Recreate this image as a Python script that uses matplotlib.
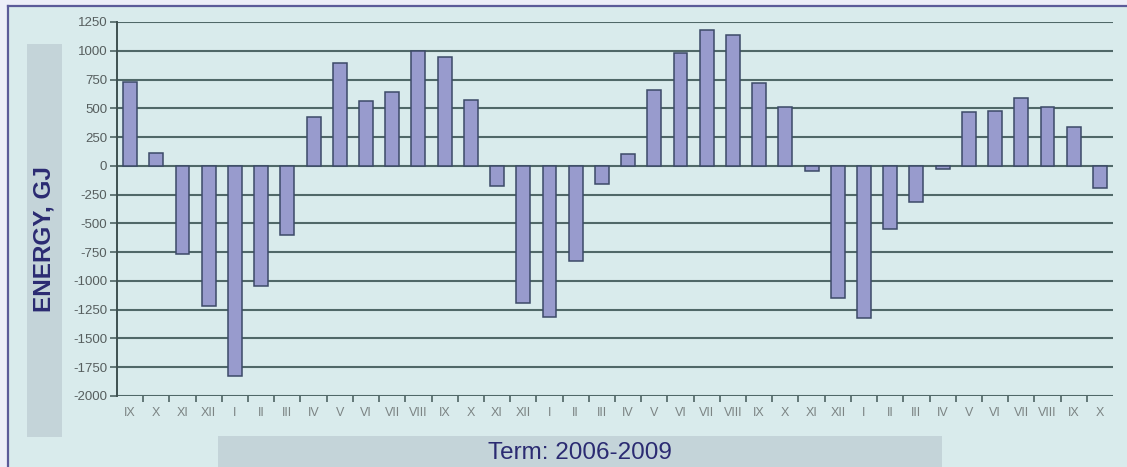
import matplotlib.pyplot as plt
import matplotlib.patches as mpatches
import numpy as np

months = ["IX", "X", "XI", "XII",
          "I", "II", "III", "IV", "V", "VI", "VII", "VIII", "IX", "X", "XI", "XII",
          "I", "II", "III", "IV", "V", "VI", "VII", "VIII", "IX", "X", "XI", "XII",
          "I", "II", "III", "IV", "V", "VI", "VII", "VIII", "IX", "X"]
energy = [730, 110, -770, -1220,
          -1830, -1045, -605, 425, 890, 560, 643, 995, 945, 570, -178, -1190,
          -1310, -830, -157, 102, 663, 983, 1177, 1134, 721, 515, -48, -1150,
          -1318, -550, -316, -28, 465, 477, 587, 513, 337, -189]
yticks = [1250, 1000, 750, 500, 250, 0, -250, -500, -750, -1000, -1250, -1500, -1750, -2000]

W, H = 1127, 467
bg = "#d9ebec"
navy = "#2b2b72"

fig = plt.figure(figsize=(W / 100, H / 100), dpi=100)
fig.patch.set_facecolor("#eceef8")

# background panel + border (top and left only)
fig.add_artist(mpatches.Rectangle((8 / W, 0), 1, 1 - 6 / H, transform=fig.transFigure,
                                  facecolor=bg, edgecolor="none", zorder=0))
fig.add_artist(plt.Line2D([8 / W, 1], [1 - 6 / H, 1 - 6 / H], transform=fig.transFigure,
                          color="#5b5b99", lw=1.6))
fig.add_artist(plt.Line2D([8 / W, 8 / W], [0, 1 - 6 / H], transform=fig.transFigure,
                          color="#5b5b99", lw=1.6))

# label boxes
fig.add_artist(mpatches.Rectangle((27 / W, 1 - 437 / H), 35 / W, 393 / H, transform=fig.transFigure,
                                  facecolor="#c4d4d9", edgecolor="none"))
fig.add_artist(mpatches.Rectangle((218 / W, 0), 724 / W, 31 / H, transform=fig.transFigure,
                                  facecolor="#c4d4d9", edgecolor="none"))
fig.text(44 / W, 1 - 239 / H, "ENERGY, GJ", rotation=90, ha="center", va="center",
         fontsize=17.5, fontweight="bold", color=navy, family="Liberation Sans")
fig.text(580 / W, 1 - 453 / H, "Term: 2006-2009", ha="center", va="center",
         fontsize=17.5, color=navy, family="Liberation Sans")

ax = fig.add_axes([117 / W, 1 - 396 / H, 996 / W, 374 / H])
ax.set_facecolor("none")
x = np.arange(len(energy))
ax.bar(x, energy, width=0.53, color="#989bcd", edgecolor="#3c4a68", linewidth=1.1, zorder=3)

ax.set_xlim(-0.5, len(energy) - 0.5)
ax.set_ylim(-2000, 1250)
ax.set_yticks(yticks)
ax.set_yticklabels([str(v) for v in yticks])
for v in yticks:
    ax.axhline(v, color="#506868", lw=1.5, zorder=1)

ax.set_xticks(x)
ax.set_xticklabels(months)
ax.set_xticks(np.arange(0.5, len(energy) - 0.5), minor=True)
ax.tick_params(axis="x", which="major", length=0, pad=8, labelsize=9, labelcolor="#7c8484")
ax.tick_params(axis="x", which="minor", length=4, width=1.2, color="#4e6464", direction="out")
ax.tick_params(axis="y", length=5, width=1.2, color="#4e6464", labelsize=9.5,
               labelcolor="#565e5e", pad=2)
for lab in ax.get_xticklabels() + ax.get_yticklabels():
    lab.set_family("Liberation Sans")

for s in ["top", "right", "bottom"]:
    ax.spines[s].set_visible(False)
ax.spines["left"].set_color("#3e5050")
ax.spines["left"].set_linewidth(1.4)

fig.savefig("out.png", dpi=100, facecolor=fig.get_facecolor())
